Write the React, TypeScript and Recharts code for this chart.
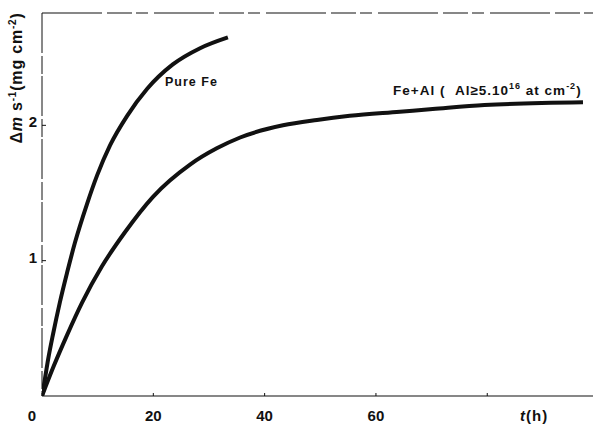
import React from 'react';
import { LineChart, Line, XAxis, YAxis, ReferenceLine } from 'recharts';

// Mass gain per unit area vs oxidation time
const pureFeTime = [0, 0.5, 1.1, 2.0, 3.2, 4.5, 5.9, 8.1, 9.9, 12.2, 15.3, 18.9, 23.5, 28.4, 33.4];
const pureFeGain = [0, 0.12, 0.27, 0.46, 0.69, 0.91, 1.13, 1.42, 1.63, 1.85, 2.07, 2.27, 2.45, 2.57, 2.65];

const feAlTime = [0, 2.0, 4.5, 7.2, 10.8, 14.9, 19.9, 26.6, 31.4, 35.6, 43.3, 49.4, 55.3, 64.3, 70.2, 79.5, 97.2];
const feAlGain = [0, 0.21, 0.45, 0.69, 0.96, 1.21, 1.47, 1.71, 1.83, 1.91, 2.0, 2.04, 2.07, 2.1, 2.12, 2.15, 2.17];

const xTicks = [0, 20, 40, 60, 80];
const xTickLabels = ['0', '20', '40', '60', ''];
const yTicks = [1, 2];
const yTickLabels = ['1', '2'];

const pureFeData = pureFeTime.map((t, i) => ({ t, gain: pureFeGain[i] }));
const feAlData = feAlTime.map((t, i) => ({ t, gain: feAlGain[i] }));

const FONT = '"Liberation Sans", Arial, sans-serif';
const INK = '#111';

const XTick = ({ x, y, payload }: any) => {
  const idx = xTicks.indexOf(payload.value);
  const label = xTickLabels[idx] ?? '';
  return (
    <g>
      <line x1={x} y1={y} x2={x} y2={y - 3} stroke={INK} strokeWidth={1} />
      <text
        x={payload.value === 0 ? x - 10 : x}
        y={y + 25}
        textAnchor="middle"
        fontFamily={FONT}
        fontWeight="bold"
        fontSize={15}
        fill={INK}
      >
        {label}
      </text>
    </g>
  );
};

const YTick = ({ x, y, payload }: any) => {
  const idx = yTicks.indexOf(payload.value);
  return (
    <g>
      <line x1={x} y1={y} x2={x + 4} y2={y} stroke={INK} strokeWidth={1} />
      <text
        x={x - 5}
        y={y + 2}
        textAnchor="end"
        fontFamily={FONT}
        fontWeight="bold"
        fontSize={15}
        fill={INK}
      >
        {yTickLabels[idx]}
      </text>
    </g>
  );
};

export default function App() {
  return (
    <div style={{ position: 'absolute', left: 0, top: 0, width: 595, height: 425, background: '#fff' }}>
      <LineChart width={595} height={425} margin={{ top: 13, right: 2, left: 0, bottom: 0 }}>
        <XAxis
          type="number"
          dataKey="t"
          domain={[0, 99]}
          ticks={xTicks}
          tick={<XTick />}
          tickLine={false}
          tickSize={0}
          tickMargin={0}
          height={29}
          axisLine={{ stroke: INK, strokeWidth: 1.2 }}
          allowDataOverflow
        />
        <YAxis
          type="number"
          dataKey="gain"
          domain={[0, 2.83]}
          ticks={yTicks}
          tick={<YTick />}
          tickLine={false}
          tickSize={0}
          tickMargin={0}
          width={42}
          axisLine={{ stroke: INK, strokeWidth: 1, strokeDasharray: '40 3 18 2' }}
          allowDataOverflow
        />
        <ReferenceLine y={2.83} stroke={INK} strokeWidth={1.2} strokeDasharray="60 5 25 4 12 6" />
        <Line
          data={pureFeData}
          dataKey="gain"
          type="monotone"
          stroke={INK}
          strokeWidth={4}
          dot={false}
          isAnimationActive={false}
        />
        <Line
          data={feAlData}
          dataKey="gain"
          type="monotone"
          stroke={INK}
          strokeWidth={4}
          dot={false}
          isAnimationActive={false}
        />
        <text
          transform="translate(22, 78) rotate(-90)"
          textAnchor="middle"
          fontFamily={FONT}
          fontWeight="bold"
          fontSize={16}
          fill={INK}
          letterSpacing={0.8}
        >
          Δ<tspan fontStyle="italic">m</tspan> s<tspan dy={-6} fontSize={10}>-1</tspan>
          <tspan dy={6}>(mg cm</tspan>
          <tspan dy={-6} fontSize={10}>-2</tspan>
          <tspan dy={6}>)</tspan>
        </text>
        <text x={165} y={86} fontFamily={FONT} fontWeight="bold" fontSize={12.5} fill={INK} letterSpacing={1}>
          Pure Fe
        </text>
        <text x={393} y={95} fontFamily={FONT} fontWeight="bold" fontSize={13.5} fill={INK} letterSpacing={1}>
          {'Fe+Al (\u00a0\u00a0Al≥5.10'}
          <tspan dy={-6} fontSize={9}>16</tspan>
          <tspan dy={6}>{'\u00a0at cm'}</tspan>
          <tspan dy={-6} fontSize={9}>-2</tspan>
          <tspan dy={6}>)</tspan>
        </text>
        <text x={520} y={421} fontFamily={FONT} fontWeight="bold" fontSize={15} fill={INK} letterSpacing={1}>
          <tspan fontStyle="italic">t</tspan>(h)
        </text>
      </LineChart>
    </div>
  );
}
